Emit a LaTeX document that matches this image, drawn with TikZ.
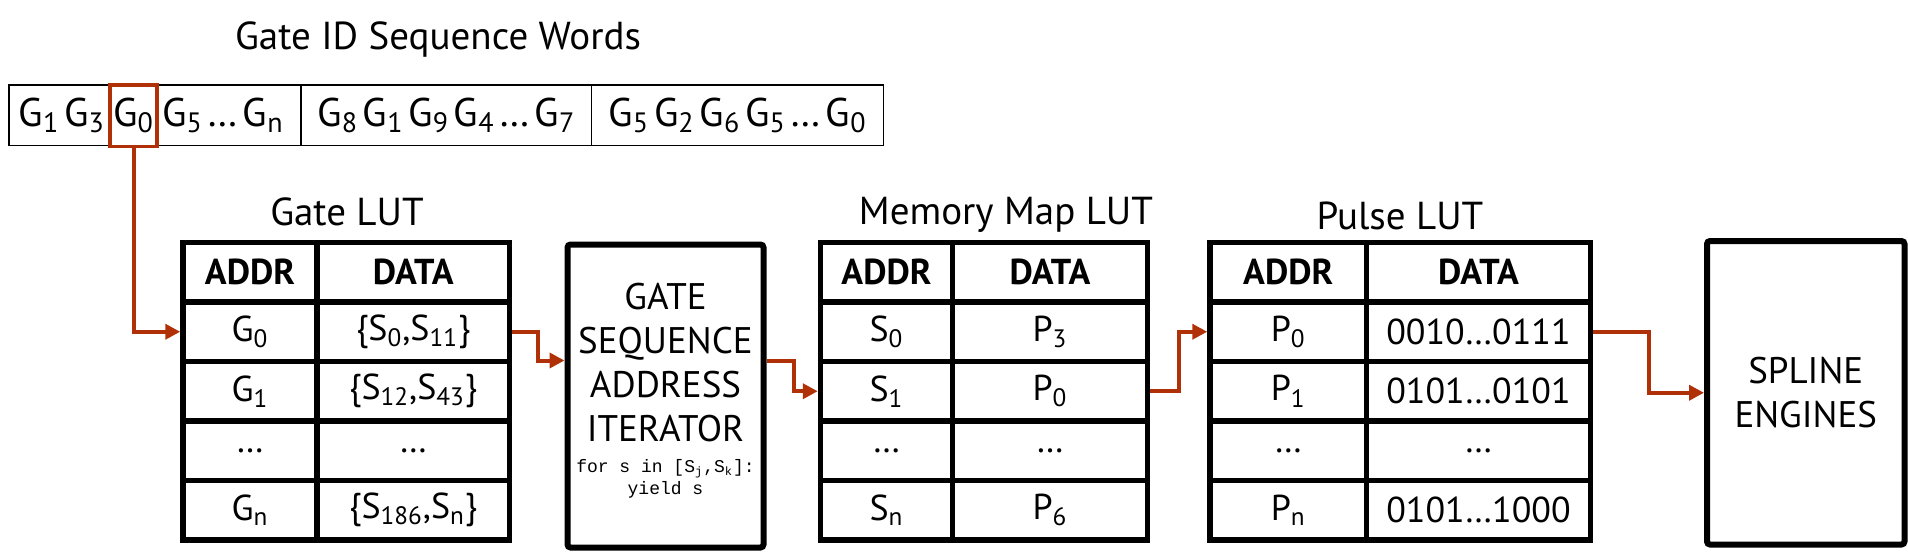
\documentclass[tikz,border=0pt]{standalone}
\usepackage{fontspec}
\setmainfont{PT Sans}
\setmonofont{Liberation Mono}
\usetikzlibrary{arrows.meta, positioning}
\definecolor{rust}{RGB}{176,48,8}
\newcommand{\ix}[1]{\textsubscript{#1}}
\newcommand{\wordfont}{\fontsize{20}{24}\selectfont\spaceskip=0.12em\relax}

\tikzset{
  cell/.style={draw, line width=2.75pt, inner sep=0pt, minimum height=29.75pt,
    font=\fontsize{18}{21}\selectfont},
  headcell/.style={cell, font=\fontsize{18}{21}\selectfont\bfseries},
  gaddr/.style={minimum width=67pt},
  gdata/.style={minimum width=96.25pt},
  maddr/.style={minimum width=66pt},
  mdata/.style={minimum width=97.5pt},
  paddr/.style={minimum width=78.25pt},
  pdata/.style={minimum width=112pt},
  word/.style={draw, line width=0.75pt, minimum height=30.25pt, inner sep=0pt,
    font=\wordfont},
  pick/.style={draw=rust, line width=1.75pt, minimum width=23.5pt,
    minimum height=30.85pt, inner sep=0pt, font=\wordfont},
  wordtext/.style={inner sep=1.5pt, font=\wordfont},
  lutname/.style={anchor=base, font=\fontsize{19.5}{23}\selectfont},
  block/.style={draw, line width=3pt, rounded corners=1.5pt,
    minimum width=98pt, minimum height=151.5pt},
  blocktext/.style={align=center, font=\fontsize{18.5}{22}\selectfont},
  codetext/.style={align=center, inner sep=0pt, font=\ttfamily\fontsize{9}{11}\selectfont},
  link/.style={draw=rust, line width=2pt, -{Triangle[length=7.5pt,width=7.5pt]}}
}

\begin{document}
\begin{tikzpicture}[x=0.5pt, y=-0.5pt]
    \useasboundingbox (0,0) rectangle (1908,556);

    % Gate ID sequence words
    \node[lutname] (seqname) at (438,50) {Gate ID Sequence Words};
    \node[word, minimum width=146pt] (w1) at (155,115.25) {};
    \node[word, minimum width=145.35pt] (w2) at (446.35,115.25) {G\ix{8} G\ix{1} G\ix{9} G\ix{4} … G\ix{7}};
    \node[word, minimum width=145.8pt] (w3) at (737.5,115.25) {G\ix{5} G\ix{2} G\ix{6} G\ix{5} … G\ix{0}};
    % Selected gate ID in the first word
    \node[pick] (sel) at (133.5,115.8) {G\ix{0}};
    \node[wordtext, anchor=base east] (w1a) at (sel.base west) {G\ix{1} G\ix{3}};
    \node[wordtext, anchor=base west] (w1b) at (sel.base east) {G\ix{5} … G\ix{n}};

    % Gate LUT
    \node[lutname] (gatename) at (347,226) {Gate LUT};
    \node[headcell, gaddr] (gah) at (250,272.25) {ADDR};
    \node[headcell, gdata] (gdh) at (413.25,272.25) {DATA};
    \node[cell, gaddr] (ga0) at (250,331.75) {G\ix{0}};
    \node[cell, gdata] (gd0) at (413.25,331.75) {\{S\ix{0},S\ix{11}\}};
    \node[cell, gaddr] (ga1) at (250,391.25) {G\ix{1}};
    \node[cell, gdata] (gd1) at (413.25,391.25) {\{S\ix{12},S\ix{43}\}};
    \node[cell, gaddr] (gadots) at (250,450.75) {…};
    \node[cell, gdata] (gddots) at (413.25,450.75) {…};
    \node[cell, gaddr] (gan) at (250,510.25) {G\ix{n}};
    \node[cell, gdata] (gdn) at (413.25,510.25) {\{S\ix{186},S\ix{n}\}};

    % Address iterator
    \node[block] (iter) at (665.5,396) {};
    \node[blocktext] (itername) at (665.5,363) {GATE\\SEQUENCE\\ADDRESS\\ITERATOR};
    \node[codetext] (itercode) at (665.5,479) {for s in [S\ix{j},S\ix{k}]:\\yield s};

    % Memory Map LUT
    \node[lutname] (memname) at (1006,225) {Memory Map LUT};
    \node[headcell, maddr] (mah) at (886.5,272.25) {ADDR};
    \node[headcell, mdata] (mdh) at (1050,272.25) {DATA};
    \node[cell, maddr] (ma0) at (886.5,331.75) {S\ix{0}};
    \node[cell, mdata] (md0) at (1050,331.75) {P\ix{3}};
    \node[cell, maddr] (ma1) at (886.5,391.25) {S\ix{1}};
    \node[cell, mdata] (md1) at (1050,391.25) {P\ix{0}};
    \node[cell, maddr] (madots) at (886.5,450.75) {…};
    \node[cell, mdata] (mddots) at (1050,450.75) {…};
    \node[cell, maddr] (man) at (886.5,510.25) {S\ix{n}};
    \node[cell, mdata] (mdn) at (1050,510.25) {P\ix{6}};

    % Pulse LUT
    \node[lutname] (pulsename) at (1400,229) {Pulse LUT};
    \node[headcell, paddr] (pah) at (1288.25,272.25) {ADDR};
    \node[headcell, pdata] (pdh) at (1478.5,272.25) {DATA};
    \node[cell, paddr] (pa0) at (1288.25,331.75) {P\ix{0}};
    \node[cell, pdata] (pd0) at (1478.5,331.75) {0010…0111};
    \node[cell, paddr] (pa1) at (1288.25,391.25) {P\ix{1}};
    \node[cell, pdata] (pd1) at (1478.5,391.25) {0101…0101};
    \node[cell, paddr] (padots) at (1288.25,450.75) {…};
    \node[cell, pdata] (pddots) at (1478.5,450.75) {…};
    \node[cell, paddr] (pan) at (1288.25,510.25) {P\ix{n}};
    \node[cell, pdata] (pdn) at (1478.5,510.25) {0101…1000};

    % Spline engines
    \node[block, blocktext, minimum width=98.75pt, minimum height=151.75pt] (spline) at (1805.75,392.75) {SPLINE\\ENGINES};

    % Data flow
    \draw[link] (sel.south) |- (ga0.west);
    \draw[link] (gd0.east) -- ++(26,0) |- ([yshift=17.75pt]iter.west);
    \draw[link] ([yshift=17.75pt]iter.east) -- ++(27.5,0) |- (ma1.west);
    \draw[link] (md1.east) -- ++(29,0) |- (pa0.west);
    \draw[link] (pd0.east) -- ++(55.5,0) |- (spline.west);
\end{tikzpicture}
\end{document}
